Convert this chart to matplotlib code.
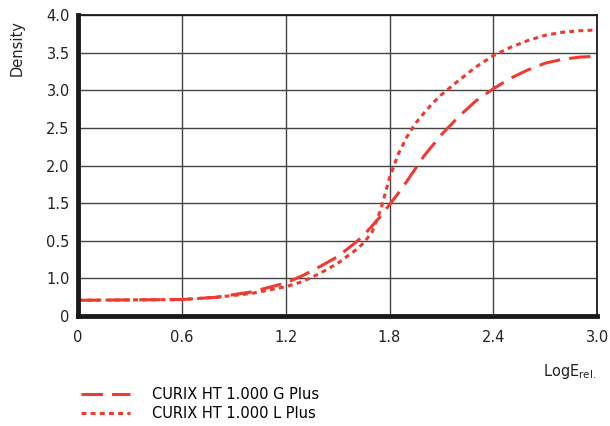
import matplotlib.pyplot as plt
from matplotlib.lines import Line2D

# curve readings (LogE rel. vs density)
log_e = [0.0, 0.6, 0.8, 1.0, 1.2, 1.3, 1.4, 1.5, 1.6, 1.65, 1.7, 1.75, 1.8,
         1.85, 1.9, 1.95, 2.0, 2.05, 2.1, 2.2, 2.3, 2.4, 2.5, 2.6, 2.7, 2.8,
         2.9, 3.0]

g_plus = [0.21, 0.22, 0.25, 0.32, 0.44, 0.54, 0.66, 0.79, 0.97, 1.07, 1.20, 1.33, 1.48,
          1.63, 1.79, 1.96, 2.13, 2.27, 2.41, 2.65, 2.86, 3.02, 3.16, 3.27, 3.36, 3.41,
          3.44, 3.45]

l_plus = [0.21, 0.22, 0.25, 0.30, 0.39, 0.46, 0.57, 0.70, 0.87, 0.97, 1.12, 1.42, 1.84,
          2.15, 2.38, 2.56, 2.70, 2.83, 2.94, 3.13, 3.31, 3.46, 3.57, 3.66, 3.73, 3.77,
          3.79, 3.80]

x_ticks = [0, 0.6, 1.2, 1.8, 2.4, 3.0]
x_labels = ["0", "0.6", "1.2", "1.8", "2.4", "3.0"]
y_ticks = [0, 0.5, 1.0, 1.5, 2.0, 2.5, 3.0, 3.5, 4.0]
y_labels = ["0", "1.0", "0.5", "1.5", "2.0", "2.5", "3.0", "3.5", "4.0"]

legend_names = ["CURIX HT 1.000 G Plus", "CURIX HT 1.000 L Plus"]

red = "#ee3a2f"
fsize = 10.5

plt.rcParams["font.family"] = ["DejaVu Sans"]

fig = plt.figure(figsize=(6.1, 4.26), dpi=100)
ax = fig.add_axes([0.128, 0.258, 0.851, 0.707])

ax.plot(log_e, g_plus, color=red, linewidth=2.2, dashes=(7, 3))
ax.plot(log_e, l_plus, color=red, linewidth=2.2, dashes=(1.6, 1.4))

ax.set_xlim(0, 3.0)
ax.set_ylim(0, 4.0)
ax.set_xticks(x_ticks)
ax.set_xticklabels(x_labels)
ax.set_yticks(y_ticks)
ax.set_yticklabels(y_labels)
ax.tick_params(length=0, labelsize=fsize, colors="#222222")
ax.tick_params(axis="x", pad=10)
ax.tick_params(axis="y", pad=6)

ax.grid(True, color="#444444", linewidth=1.0)
ax.set_axisbelow(True)

for side in ["top", "right"]:
    ax.spines[side].set_linewidth(1.3)
ax.spines["left"].set_linewidth(3.5)
ax.spines["bottom"].set_linewidth(3.5)
for s in ax.spines.values():
    s.set_color("#1a1a1a")

fig.text(0.028, 0.887, "Density", rotation=90, ha="center", va="center",
         fontsize=fsize, color="#222222")
fig.text(0.977, 0.128, r"LogE$_{\mathregular{rel.}}$", ha="right", va="center",
         fontsize=fsize, color="#222222")

handles = [
    Line2D([], [], color=red, linewidth=2.2, dashes=(7, 3)),
    Line2D([], [], color=red, linewidth=2.2, dashes=(1.6, 1.4)),
]
fig.legend(handles, legend_names, loc="upper left", bbox_to_anchor=(0.123, 0.106),
           frameon=False, fontsize=fsize, handlelength=3.4, handletextpad=1.45,
           labelspacing=0.3, borderaxespad=0)

fig.savefig("out.png", dpi=100)
